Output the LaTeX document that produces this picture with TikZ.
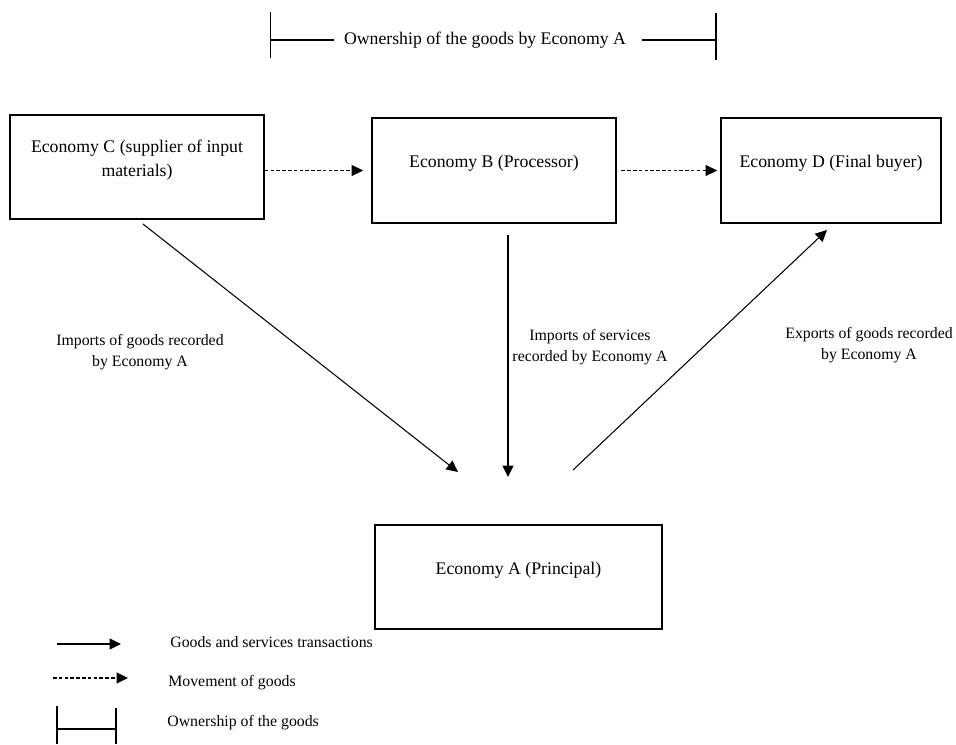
\documentclass[tikz,border=0pt]{standalone}
\usepackage{fontspec}
\setmainfont{Liberation Serif}
\usetikzlibrary{arrows.meta}
\tikzstyle{economy}=[draw, line width=1pt, align=center, font=\fontsize{10.1}{14.2}\selectfont, text depth=0.35cm]
\tikzstyle{note}=[align=center, inner sep=0pt, font=\fontsize{9}{12}\selectfont]
\tikzstyle{key}=[anchor=west, inner sep=0pt, font=\fontsize{9}{12}\selectfont]
\tikzstyle{trans}=[-{Triangle[length=0.23cm, width=0.22cm]}, line width=0.6pt]
\tikzstyle{move}=[trans, dash pattern=on 2pt off 1.3pt]
\tikzstyle{owns}=[line width=0.6pt]

\begin{document}
\begin{tikzpicture}
        \useasboundingbox (0, 0) rectangle (19.12, 14.88);
        % ownership bar
        \node[inner xsep=0.19cm, font=\fontsize{10.1}{12}\selectfont] (own) at (9.70, 14.08) {Ownership of the goods by Economy A};
        \coordinate (ownL) at (5.41, 14.08);
        \coordinate (ownR) at (14.32, 14.08);
        \draw[owns] ([yshift=0.55cm]ownL) -- ([yshift=-0.36cm]ownL);
        \draw[owns] (ownL) -- (own.west);
        \draw[owns, shorten <=0.12cm] (own.east) -- (ownR);
        \draw[owns] ([yshift=0.54cm]ownR) -- ([yshift=-0.40cm]ownR);
        % economies
        \node[economy, minimum width=5.08cm, minimum height=2.08cm] (C) at (2.74, 11.54) {Economy C (supplier of input\\materials)};
        \node[economy, minimum width=4.88cm, minimum height=2.10cm] (B) at (9.88, 11.47) {Economy B (Processor)};
        \node[economy, minimum width=4.40cm, minimum height=2.10cm] (D) at (16.62, 11.47) {Economy D (Final buyer)};
        \node[economy, minimum width=5.74cm, minimum height=2.08cm] (A) at (10.37, 3.34) {Economy A (Principal)};
        \draw[move, shorten >=0.16cm] (C.east |- B) -- (B);
        \draw[move, shorten <=0.09cm, shorten >=0.06cm] (B) -- (D);
        % transactions
        \coordinate (cOut) at (2.86, 10.40);
        \coordinate (cIn) at (9.16, 5.44);
        \coordinate (bOut) at (10.16, 10.18);
        \coordinate (bIn) at (10.16, 5.34);
        \coordinate (aOut) at (11.46, 5.48);
        \coordinate (dIn) at (16.54, 10.28);
        \draw[trans] (cOut) -- (cIn);
        \draw[trans] (bOut) -- (bIn);
        \draw[trans] (aOut) -- (dIn);
        \node[note] (impG) at (2.80, 7.83) {Imports of goods recorded\\by Economy A};
        \node[note] (impS) at (11.80, 7.93) {Imports of services\\recorded by Economy A};
        \node[note] (expG) at (17.38, 7.98) {Exports of goods recorded\\by Economy A};
        % legend
        \coordinate (k1) at (1.14, 2.00);
        \coordinate (k1e) at (2.42, 2.00);
        \draw[trans] (k1) -- (k1e);
        \node[key] (k1t) at (3.40, 2.04) {Goods and services transactions};
        \coordinate (k2) at (1.06, 1.32);
        \coordinate (k2e) at (2.56, 1.32);
        \draw[move] (k2) -- (k2e);
        \node[key] (k2t) at (3.36, 1.22) {Movement of goods};
        \coordinate (k3) at (1.14, 0.30);
        \coordinate (k3e) at (2.32, 0.30);
        \draw[owns] (k3) -- (k3e);
        \draw[owns] ([yshift=0.46cm]k3) -- ([yshift=-0.30cm]k3);
        \draw[owns] ([yshift=0.42cm]k3e) -- ([yshift=-0.30cm]k3e);
        \node[key] (k3t) at (3.34, 0.42) {Ownership of the goods};
    \end{tikzpicture}
\end{document}
